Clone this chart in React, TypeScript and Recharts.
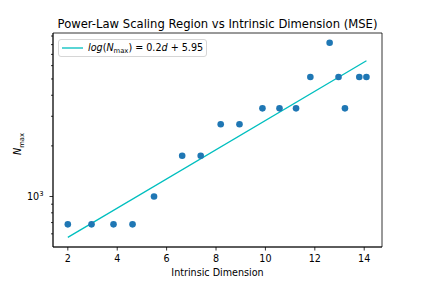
import { ComposedChart, Scatter, Line, XAxis, YAxis, ReferenceArea } from 'recharts'

// intrinsic dimension vs N_max
const dims = [2.0, 2.96, 3.85, 4.62, 5.49, 6.63, 7.38, 8.19, 8.95, 9.88, 10.57, 11.24, 11.82, 12.6, 12.96, 13.22, 13.8, 14.09]
const nMax = [683, 683, 683, 683, 1000, 1748, 1748, 2689, 2689, 3344, 3344, 3344, 5140, 8210, 5140, 3344, 5140, 5140]

// fitted line endpoints
const fitDims = [2.0, 14.09]
const fitValues = [572, 6420]

const xTicks = [2, 4, 6, 8, 10, 12, 14]
const yTicks = [600, 700, 800, 900, 1000, 2000, 3000, 4000, 5000, 6000, 7000, 8000, 9000]
const yMajor = [1000]

const xDomain = [1.4, 14.72]
const yDomain = [501, 9380]

const points = dims.map((d, i) => ({ d, n: nMax[i] }))
const fit = fitDims.map((d, i) => ({ d, n: fitValues[i] }))

const FONT = '"DejaVu Sans", sans-serif'
const FS = 9.6

const XTick = ({ x, y, payload }: any) => (
  <g>
    <line x1={x} x2={x} y1={y} y2={y + 3.5} stroke="#000" strokeWidth={0.8} />
    <text x={x} y={y + 15} textAnchor="middle" fontSize={FS} fill="#000" fontFamily={FONT}>
      {payload.value}
    </text>
  </g>
)

const YTick = ({ x, y, payload }: any) => {
  const major = yMajor.includes(payload.value)
  return (
    <g>
      <line x1={x - (major ? 3.5 : 2)} x2={x} y1={y} y2={y} stroke="#000" strokeWidth={0.8} />
      {major && (
        <text x={x - 9.5} y={y + 3.5} textAnchor="end" fontSize={FS} fill="#000" fontFamily={FONT}>
          10<tspan dy={-4.5} fontSize={6.8}>3</tspan>
        </text>
      )}
    </g>
  )
}

const Dot = ({ cx, cy }: any) => <circle cx={cx} cy={cy} r={3.3} fill="#1f77b4" />

export default function App() {
  return (
    <div style={{ position: 'absolute', left: 0, top: 0, width: 424, height: 283, background: '#fff', fontFamily: FONT }}>
      <div
        style={{
          position: 'absolute', left: 13, top: 17, width: 409, textAlign: 'center',
          fontSize: 11.6, lineHeight: '14px', color: '#000', whiteSpace: 'nowrap'
        }}
      >
        Power-Law Scaling Region vs Intrinsic Dimension (MSE)
      </div>
      <ComposedChart width={424} height={283} margin={{ top: 33, right: 42, bottom: 0, left: 0 }}>
        <XAxis
          type="number"
          dataKey="d"
          domain={xDomain}
          ticks={xTicks}
          interval={0}
          allowDataOverflow
          height={36}
          tickSize={0}
          tickMargin={0}
          tickLine={false}
          tick={<XTick />}
          axisLine={{ stroke: '#000', strokeWidth: 0.8 }}
          label={{
            content: () => (
              <text x={217.5} y={276} textAnchor="middle" fontSize={FS} fill="#000" fontFamily={FONT}>
                Intrinsic Dimension
              </text>
            )
          }}
        />
        <YAxis
          type="number"
          dataKey="n"
          scale="log"
          domain={yDomain}
          ticks={yTicks}
          interval={0}
          allowDataOverflow
          width={53}
          tickSize={0}
          tickMargin={0}
          tickLine={false}
          tick={<YTick />}
          axisLine={{ stroke: '#000', strokeWidth: 0.8 }}
          label={{
            content: () => (
              <text x={21} y={144} transform="rotate(-90, 21, 144)" textAnchor="middle" fontSize={FS} fill="#000" fontFamily={FONT}>
                <tspan fontStyle="italic">N</tspan>
                <tspan dy={2.5} fontSize={6.8}>max</tspan>
              </text>
            )
          }}
        />
        <ReferenceArea x1={xDomain[0]} x2={xDomain[1]} y1={yDomain[0]} y2={yDomain[1]} fill="none" stroke="#000" strokeWidth={0.8} ifOverflow="visible" />
        <Scatter data={points} dataKey="n" shape={<Dot />} isAnimationActive={false} />
        <Line data={fit} dataKey="n" type="linear" stroke="#00bfbf" strokeWidth={1.3} dot={false} isAnimationActive={false} />
      </ComposedChart>
      <div
        style={{
          position: 'absolute', left: 58, top: 39, width: 149, height: 18, boxSizing: 'border-box',
          border: '1px solid #d6d6d6', borderRadius: 3, background: 'rgba(255,255,255,0.8)',
          display: 'flex', alignItems: 'center', fontSize: FS, color: '#000', whiteSpace: 'nowrap'
        }}
      >
        <svg width={29} height={10} style={{ flex: 'none' }}>
          <line x1={3} x2={24} y1={5} y2={5} stroke="#00bfbf" strokeWidth={1.3} />
        </svg>
        <span style={{ lineHeight: '12px' }}>
          <i>log</i>(<i>N</i><sub style={{ fontSize: 6.8, verticalAlign: -2, lineHeight: 0 }}>max</sub>) = 0.2<i>d</i> + 5.95
        </span>
      </div>
    </div>
  )
}
